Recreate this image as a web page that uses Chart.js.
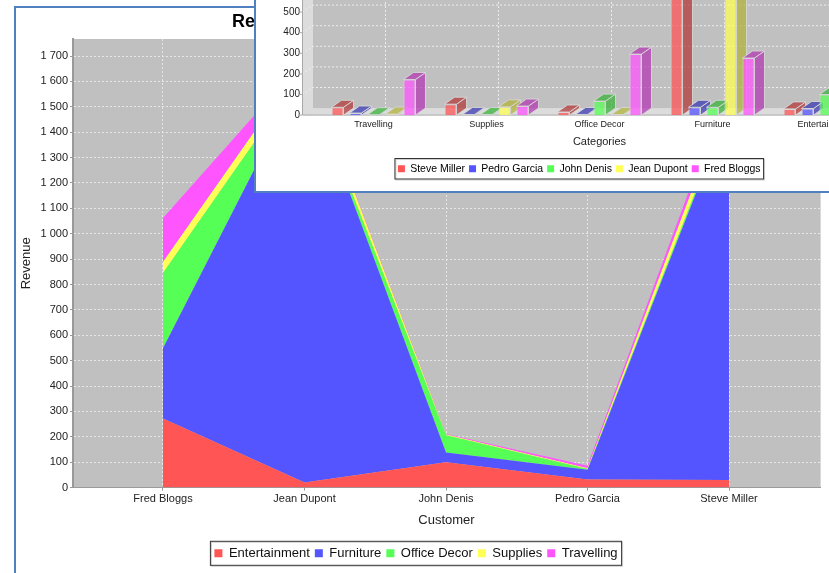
<!DOCTYPE html>
<html>
<head>
<meta charset="utf-8">
<title>Revenue</title>
<script src="https://cdn.jsdelivr.net/npm/chart.js@4/dist/chart.umd.min.js"></script>
<style>
html, body { margin: 0; padding: 0; background: #fff; }
body { position: relative; width: 829px; height: 573px; overflow: hidden; }
#backFrame { position: absolute; left: 14px; top: 6px; width: 900px; height: 800px; background: #fff; border: 2px solid #5080c0; }
#frontFrame { position: absolute; left: 254px; top: -10px; width: 700px; height: 199px; background: #fff; border: 2px solid #5080c0; }
#back { position: absolute; left: 0; top: 0; }
#front { position: absolute; left: 256px; top: -320px; }
</style>
</head>
<body>
<div id="backFrame"></div>
<canvas id="back" width="829" height="573"></canvas>
<div id="frontFrame"></div>
<canvas id="front" width="650" height="510"></canvas>
<script>
// order of the values: customers
var customers = ['Fred Bloggs', 'Jean Dupont', 'John Denis', 'Pedro Garcia', 'Steve Miller'];
var entertainment = [272, 20, 100, 32, 30];
var furniture = [277, 1620, 38, 38, 1460];
var officeDecor = [296, 3, 68, 3, 15];
var supplies = [44, 40, 3, 3, 53];
var travelling = [173, 5, 2, 10, 38];

var expenseNames = ['Entertainment', 'Furniture', 'Office Decor', 'Supplies', 'Travelling'];
var expenseColors = ['#ff5555', '#5555ff', '#55ff55', '#ffff55', '#ff55ff'];

var frontCategories = ['Travelling', 'Supplies', 'Office Decor', 'Furniture', 'Entertainment'];
var frontSeries = ['Steve Miller', 'Pedro Garcia', 'John Denis', 'Jean Dupont', 'Fred Bloggs'];
var frontRgb = [[255, 85, 85], [85, 85, 255], [85, 255, 85], [255, 255, 85], [255, 85, 255]];

Chart.defaults.font.family = '"Liberation Sans", Arial, sans-serif';
Chart.defaults.color = '#222';
Chart.defaults.animation = false;

function thousands(v) {
    return String(v).replace(/\B(?=(\d{3})+$)/g, ' ');
}

// black box around the legend items, like the original
function legendBox(padX, padY) {
    return {
        id: 'legendBox',
        afterDraw: function (chart) {
            var boxes = chart.legend.legendHitBoxes;
            var left = boxes[0].left - padX;
            var right = boxes[boxes.length - 1].left + boxes[boxes.length - 1].width + padX;
            var top = boxes[0].top - padY;
            var h = boxes[0].height + padY * 2;
            var ctx = chart.ctx;
            ctx.save();
            ctx.strokeStyle = '#d0d0d0';
            ctx.lineWidth = 1;
            ctx.strokeRect(left + 1, top + 1, right - left, h);
            ctx.strokeStyle = '#333';
            ctx.strokeRect(left, top, right - left, h);
            ctx.restore();
        }
    };
}

var backPlot = {
    id: 'backPlot',
    beforeDraw: function (chart) {
        var a = chart.chartArea;
        var ctx = chart.ctx;
        ctx.save();
        ctx.fillStyle = '#c0c0c0';
        ctx.fillRect(a.left, a.top, a.right - a.left, a.bottom - a.top);
        ctx.fillStyle = '#d8d8d8';
        ctx.fillRect(a.right, a.top, 1, a.bottom - a.top);
        ctx.restore();
        // the title is mostly behind the front window and starts here
        chart.titleBlock.left = 232;
    }
};

var backSeries = [entertainment, furniture, officeDecor, supplies, travelling];

new Chart(document.getElementById('back'), {
    type: 'line',
    data: {
        datasets: backSeries.map(function (values, i) {
            return {
                label: expenseNames[i],
                data: values.map(function (v, k) { return { x: k, y: v }; }),
                backgroundColor: expenseColors[i],
                borderColor: expenseColors[i],
                borderWidth: 0,
                pointRadius: 0,
                tension: 0,
                fill: i === 0 ? 'origin' : '-1'
            };
        })
    },
    options: {
        responsive: false,
        layout: { padding: { left: 12, right: 9, top: 0, bottom: 3.2 } },
        plugins: {
            tooltip: { enabled: false },
            title: {
                display: true,
                text: 'Revenue',
                align: 'start',
                color: '#000',
                font: { size: 18, weight: 'bold' },
                padding: { top: 11.2, bottom: 6.2 }
            },
            legend: {
                position: 'bottom',
                labels: { boxWidth: 8, boxHeight: 8, padding: 5, font: { size: 13 }, color: '#111' }
            }
        },
        scales: {
            x: {
                type: 'linear',
                min: -0.636,
                max: 4.643,
                afterBuildTicks: function (scale) {
                    scale.ticks = customers.map(function (c, i) { return { value: i }; });
                },
                afterFit: function (scale) { scale.height = 54.2; },
                ticks: {
                    autoSkip: false,
                    maxRotation: 0,
                    padding: 2,
                    font: { size: 11 },
                    callback: function (v) { return customers[v]; }
                },
                grid: { color: '#e6e6e6', tickColor: '#999', tickLength: 3 },
                border: { color: '#9a9a9a', dash: [2, 2], width: 1 },
                title: { display: true, text: 'Customer', font: { size: 13 }, padding: { top: 4, bottom: 13.4 } }
            },
            y: {
                stacked: true,
                min: 0,
                max: 1767,
                afterFit: function (scale) { scale.width = 61; },
                ticks: {
                    stepSize: 100,
                    includeBounds: false,
                    padding: 2,
                    font: { size: 11 },
                    callback: thousands
                },
                grid: { color: '#e6e6e6', tickColor: '#999', tickLength: 3 },
                border: { color: '#999', dash: [2, 2], width: 2 },
                title: { display: true, text: 'Revenue', font: { size: 13 }, padding: { top: 7, bottom: 0 } }
            }
        },
        clip: false
    },
    plugins: [backPlot, legendBox(4, 5.5)]
});

// depth of the fake 3D
var dx = 10, dy = 7;
var wallInset = 15;
var wallDepth = 11;

var frontWalls = {
    id: 'frontWalls',
    beforeDatasetsDraw: function (chart) {
        var a = chart.chartArea;
        var ctx = chart.ctx;
        var yScale = chart.scales.y;
        var xScale = chart.scales.x;
        var x0 = a.left - wallInset;
        var wx = x0 + wallDepth;
        var w = chart.width;
        ctx.save();
        ctx.fillStyle = '#dcdcdc';
        ctx.fillRect(x0, 0, wallDepth, a.bottom);
        ctx.beginPath();
        ctx.moveTo(x0, a.bottom);
        ctx.lineTo(wx, a.bottom - dy);
        ctx.lineTo(w, a.bottom - dy);
        ctx.lineTo(w, a.bottom);
        ctx.closePath();
        ctx.fill();
        ctx.fillStyle = '#c0c0c0';
        ctx.fillRect(wx, 0, w - wx, a.bottom - dy);

        ctx.lineWidth = 1;
        ctx.strokeStyle = '#eeeeee';
        ctx.setLineDash([2, 2]);
        yScale.ticks.forEach(function (t) {
            var py = yScale.getPixelForValue(t.value);
            if (t.value > 0) {
                ctx.beginPath();
                ctx.moveTo(x0, py);
                ctx.lineTo(wx, py - dy);
                ctx.lineTo(w, py - dy);
                ctx.stroke();
            }
        });
        frontCategories.forEach(function (c, i) {
            var px = Math.round(xScale.getPixelForValue(i) + wallDepth) + 0.5;
            ctx.beginPath();
            ctx.moveTo(px, a.bottom - dy);
            ctx.lineTo(px, 0);
            ctx.stroke();
        });
        ctx.setLineDash([]);
        ctx.strokeStyle = '#a8a8a8';
        yScale.ticks.forEach(function (t) {
            var py = yScale.getPixelForValue(t.value);
            ctx.beginPath();
            ctx.moveTo(x0 - 3, py);
            ctx.lineTo(x0, py);
            ctx.stroke();
        });
        ctx.beginPath();
        ctx.moveTo(x0 + 0.5, 0);
        ctx.lineTo(x0 + 0.5, a.bottom);
        ctx.lineTo(w, a.bottom);
        ctx.stroke();
        ctx.restore();
    }
};

function drawFaces(chart, meta, index) {
    var ctx = chart.ctx;
    var rgb = frontRgb[index];
    var dark = 'rgba(' + Math.round(rgb[0] * 0.7) + ',' + Math.round(rgb[1] * 0.7) + ',' + Math.round(rgb[2] * 0.7) + ',0.75)';
    ctx.save();
    ctx.fillStyle = dark;
    ctx.strokeStyle = 'rgba(215,215,215,0.9)';
    ctx.lineWidth = 1;
    meta.data.forEach(function (bar) {
        var xl = bar.x - bar.width / 2;
        var xr = bar.x + bar.width / 2;
        var top = Math.min(bar.y, bar.base);
        ctx.beginPath();
        ctx.moveTo(xr, top);
        ctx.lineTo(xr + dx, top - dy);
        ctx.lineTo(xr + dx, bar.base - dy);
        ctx.lineTo(xr, bar.base);
        ctx.closePath();
        ctx.fill();
        ctx.stroke();
        ctx.beginPath();
        ctx.moveTo(xl, top);
        ctx.lineTo(xl + dx, top - dy);
        ctx.lineTo(xr + dx, top - dy);
        ctx.lineTo(xr, top);
        ctx.closePath();
        ctx.fill();
        ctx.stroke();
    });
    ctx.restore();
}

// bars have to be painted left to right so each one covers the side of the one before
var frontFaces = {
    id: 'frontFaces',
    beforeDatasetDraw: function () {
        return false;
    },
    afterDatasetsDraw: function (chart) {
        frontSeries.forEach(function (name, i) {
            var meta = chart.getDatasetMeta(i);
            meta.controller.draw();
            drawFaces(chart, meta, i);
        });
    }
};

var seriesByCategory = [travelling, supplies, officeDecor, furniture, entertainment];

new Chart(document.getElementById('front'), {
    type: 'bar',
    data: {
        labels: frontCategories,
        datasets: frontSeries.map(function (name, i) {
            var rgb = frontRgb[i];
            return {
                label: name,
                // customers are sorted the other way round in the front chart
                data: seriesByCategory.map(function (values) { return values[customers.indexOf(name)]; }),
                backgroundColor: 'rgba(' + rgb.join(',') + ',0.75)',
                borderColor: 'rgba(215,215,215,0.9)',
                borderWidth: 1,
                categoryPercentage: 0.796,
                barPercentage: 0.667
            };
        })
    },
    options: {
        responsive: false,
        layout: { padding: { left: 20.5, right: 24, top: 17, bottom: 6 } },
        plugins: {
            tooltip: { enabled: false },
            legend: {
                position: 'bottom',
                labels: {
                    boxWidth: 7,
                    boxHeight: 7,
                    padding: 4,
                    font: { size: 10.5 },
                    color: '#111',
                    generateLabels: function () {
                        return frontSeries.map(function (name, i) {
                            return { text: name, fillStyle: 'rgb(' + frontRgb[i].join(',') + ')', strokeStyle: 'transparent', lineWidth: 0, datasetIndex: i };
                        });
                    }
                }
            }
        },
        scales: {
            x: {
                afterFit: function (scale) { scale.height = 44.4; },
                ticks: { autoSkip: false, maxRotation: 0, padding: 4, font: { size: 9 } },
                grid: { display: false, drawTicks: false },
                border: { display: false },
                title: { display: true, text: 'Categories', font: { size: 11 }, padding: { top: 2, bottom: 10.8 } }
            },
            y: {
                min: 0,
                max: 2000,
                afterFit: function (scale) { scale.width = 40.5; },
                ticks: { stepSize: 100, padding: 17, font: { size: 10 }, callback: thousands },
                grid: { display: false, drawTicks: false },
                border: { display: false }
            }
        }
    },
    plugins: [frontWalls, frontFaces, legendBox(3, 5)]
});
</script>
</body>
</html>
